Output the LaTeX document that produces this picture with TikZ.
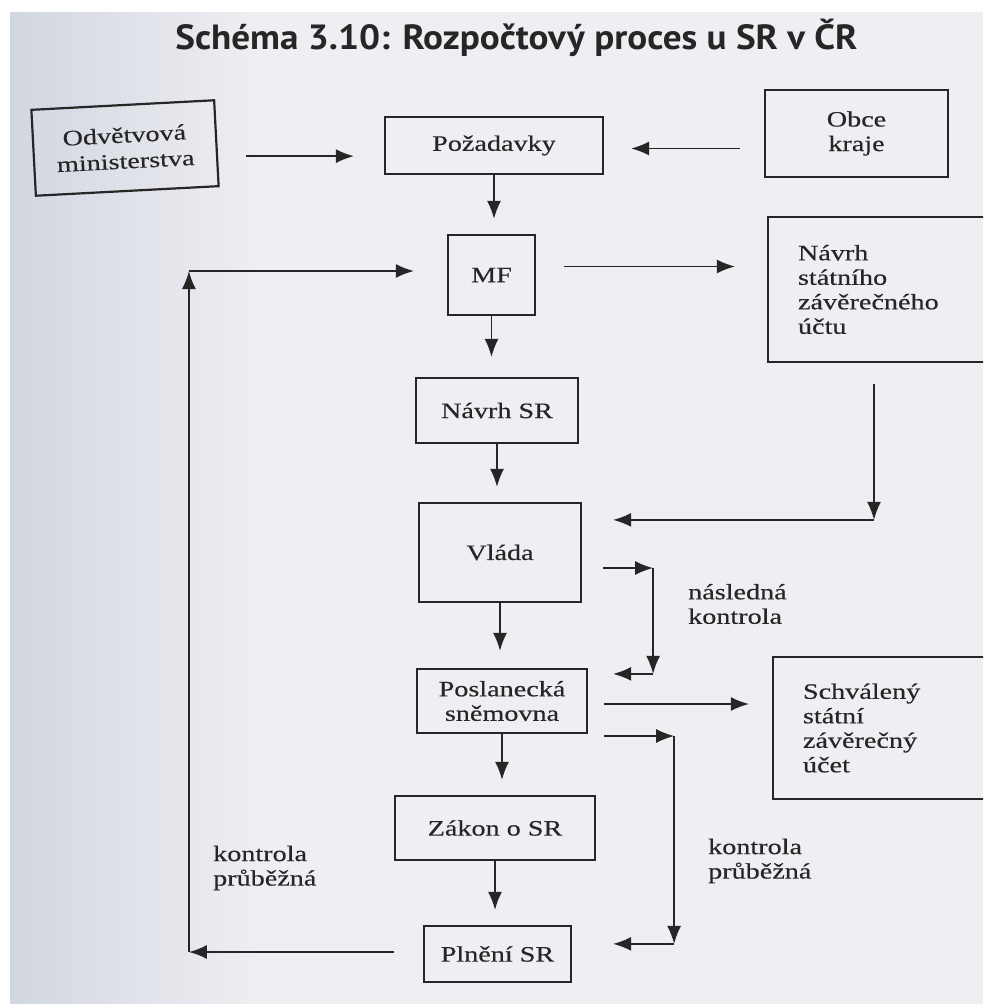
\documentclass[tikz,border=0pt]{standalone}
\usepackage{fontspec}
\setmainfont{Liberation Serif}[FakeStretch=1.28,FakeBold=0.4]
\newfontfamily\titlefont{PT Sans}[FakeStretch=1.06]
\usetikzlibrary{arrows.meta,calc}
\definecolor{ink}{HTML}{262626}
\definecolor{bgmain}{HTML}{EEEFF2}
\definecolor{bgleft}{HTML}{D2D6E0}
\begin{document}
\begin{tikzpicture}[x=1pt,y=-1pt,
  font=\fontsize{22}{24.5}\selectfont,
  box/.style={draw=ink, line width=2.2pt, inner sep=0pt, align=center, text=ink},
  arr/.style={draw=ink, line width=1.7pt, -{Latex[length=18pt,width=14pt]}},
  lbl/.style={inner sep=0pt, align=left, text=ink, anchor=west}]
\useasboundingbox (0,0) rectangle (983,1004);
\clip (0,0) rectangle (983,1004);
% background of the scanned page
\fill[white] (0,0) rectangle (983,1004);
\fill[bgmain] (10,12) rectangle (983,1004);
\shade[left color=bgleft, right color=bgmain] (10,12) rectangle (260,1004);

% title
\node[text=ink, inner sep=0pt] (title) at (516.5,38)
  {\titlefont\bfseries\fontsize{35}{38}\selectfont Schéma 3.10: Rozpočtový proces u SR v ČR};

% boxes
\node[box, minimum width=183pt, minimum height=86pt, rotate=3, font=\fontsize{22}{26}\selectfont] (odv) at (125,148) {Odvětvová\\ministerstva};
\node[box, minimum width=218pt, minimum height=57pt] (poz) at (494,145.5) {Požadavky};
\node[box, minimum width=183pt, minimum height=87pt] (obce) at (856.5,133.5) {Obce\\kraje};
\node[box, minimum width=87pt, minimum height=80pt] (mf) at (491.5,275) {MF};
\node[box, minimum width=242pt, minimum height=145pt, text width=182pt, align=left] (nuc) at (889,289.5) {Návrh\\státního\\závěrečného\\účtu};
\node[box, minimum width=162pt, minimum height=65pt] (nsr) at (497,410.5) {Návrh SR};
\node[box, minimum width=162pt, minimum height=99pt] (vla) at (500,552.5) {Vláda};
\node[box, minimum width=170pt, minimum height=64pt] (posl) at (502,701) {Poslanecká\\sněmovna};
\node[box, minimum width=237pt, minimum height=142pt, text width=177pt, align=left] (sch) at (891.5,728) {Schválený\\státní\\závěrečný\\účet};
\node[box, minimum width=200pt, minimum height=64pt] (zak) at (495,828) {Zákon o SR};
\node[box, minimum width=147pt, minimum height=56pt] (pl) at (497.5,954) {Plnění SR};

% labels
\node[lbl] (nk) at (688,604) {následná\\kontrola};
\node[lbl] (kpr) at (708,861) {kontrola\\průběžná};
\node[lbl] (kpl) at (213,868) {kontrola\\průběžná};

% top arrows
\coordinate (a1) at ($(odv.east)+(29,13)$);
\draw[arr, shorten >=30pt] (a1) -- (a1 -| poz.west);
\coordinate (b1) at ($(obce.west)+(-24,15)$);
\draw[arr, shorten >=27pt] (b1) -- (b1 -| poz.east);

% vertical chain
\draw[arr, shorten >=15pt] (poz.south) -- (poz.south |- mf.north);
\draw[arr, shorten >=20pt] (mf.south) -- (mf.south |- nsr.north);
\draw[arr, shorten >=15pt] (nsr.south) -- (nsr.south |- vla.north);
\draw[arr, shorten >=17pt] (vla.south) -- (vla.south |- posl.north);
\draw[arr, shorten >=15pt] (posl.south) -- (posl.south |- zak.north);
\draw[arr, shorten >=15pt] (zak.south) -- (zak.south |- pl.north);

% MF -> Navrh uctu
\coordinate (d1) at ($(mf.east)+(28,-8.5)$);
\draw[arr, shorten >=32pt] (d1) -- (d1 -| nuc.west);

% Navrh uctu -> Vlada
\coordinate (g1) at ($(nuc.south)+(-15,21)$);
\coordinate (g2) at ($(g1 |- vla.north)+(0,18)$);
\draw[arr] (g1) -- (g2);
\draw[arr, shorten >=31pt] (g2) -- (g2 -| vla.east);

% nasledna kontrola
\coordinate (i1) at ($(vla.east)+(21,15.5)$);
\coordinate (i2) at ($(i1)+(50,0)$);
\coordinate (i3) at ($(i2 |- posl.north)+(0,6)$);
\draw[arr] (i1) -- (i2);
\draw[arr] (i2) -- (i3);
\draw[arr, shorten >=25pt] (i3) -- (i3 -| posl.east);

% Poslanecka -> Schvaleny
\coordinate (j1) at ($(posl.east)+(16,3)$);
\draw[arr, shorten >=23pt] (j1) -- (j1 -| sch.west);

% kontrola prubezna (right)
\coordinate (k1) at ($(posl.east)+(16,35)$);
\coordinate (k2) at ($(k1)+(70,0)$);
\coordinate (k3) at ($(k2 |- pl.north)+(0,19)$);
\draw[arr] (k1) -- (k2);
\draw[arr] (k2) -- (k3);
\draw[arr, shorten >=41pt] (k3) -- (k3 -| pl.east);

% return loop (left)
\coordinate (n1) at ($(pl.west)+(-29,-2)$);
\coordinate (n2) at ($(n1)+(-205,0)$);
\coordinate (n3) at ($(n2 |- mf.west)+(0,-4)$);
\draw[arr] (n1) -- (n2);
\draw[arr] (n2) -- (n3);
\draw[arr, shorten >=33pt] (n3) -- (n3 -| mf.west);
\end{tikzpicture}
\end{document}
